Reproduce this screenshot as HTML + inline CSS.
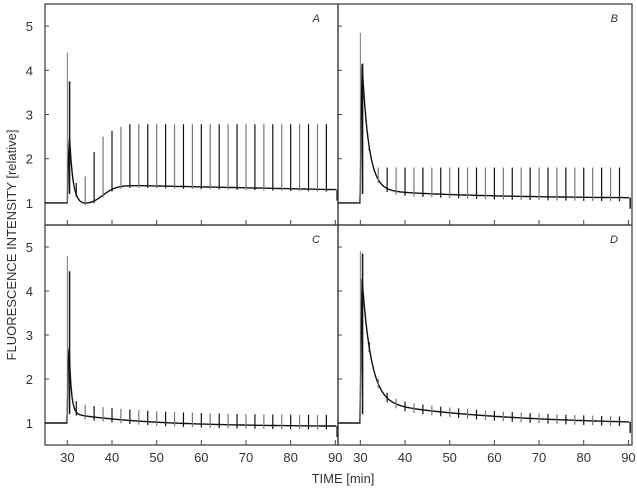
<!DOCTYPE html>
<html><head><meta charset="utf-8"><style>
body{margin:0;background:#fff;}
svg{display:block;font-family:"Liberation Sans",Arial,sans-serif;}
</style></head><body>
<svg id="s" width="637" height="491" xmlns="http://www.w3.org/2000/svg"></svg>
<script>
const s=document.getElementById('s');
let out='';
const panels=[
 {id:'A',x0:45,x1:338,y0:4,y1:225,lx:true,lab:[320,22]},
 {id:'B',x0:338,x1:632,y0:4,y1:225,lx:false,lab:[618,22]},
 {id:'C',x0:45,x1:338,y0:225,y1:445,lx:true,lab:[320,243]},
 {id:'D',x0:338,x1:632,y0:225,y1:445,lx:false,lab:[618,243]}];
function X(p,t){return p.x0+(t-25)*(p.x1-p.x0)/(p.id=='A'||p.id=='C'?65.6:65.8);}
function Y(p,v){return p.y1-(v-0.5)*(p.y1-p.y0)/5;}
function sig(z){return 1/(1+Math.exp(-z));}
const curves={
 A:t=>{ if(t<30)return 1; let d=t-30; let base=0.95+0.45*sig((t-38)/1.5)-(t>42?0.1*(t-42)/48:0)+0.05*Math.exp(-d/0.5); return base+2.8*Math.exp(-d/0.8)*(d>0.5?1:d/0.5);},
 B:t=>{ if(t<30)return 1; let d=t-30; return 1.1+0.2*Math.exp(-(t-30)/25)+3.7*Math.exp(-d/1.5)*(d>0.4?1:d/0.4);},
 C:t=>{ if(t<30)return 1; let d=t-30; return 0.92+0.3*Math.exp(-(t-30)/18)+3.3*Math.exp(-d/0.5)*(d>0.4?1:d/0.4);},
 D:t=>{ if(t<30)return 1; let d=t-30; return 0.95+0.55*Math.exp(-(t-30)/30)+3.4*Math.exp(-d/2)*(d>0.4?1:d/0.4);}
};
const spk={A:[4.4,3.75],B:[4.85,4.15],C:[4.8,4.45],D:[4.9,4.85]};
panels.forEach(p=>{
 out+=`<rect x="${p.x0}" y="${p.y0}" width="${p.x1-p.x0}" height="${p.y1-p.y0}" fill="none" stroke="#444" stroke-width="1.3"/>`;
 for(let v=1;v<=5;v++){let y=Y(p,v);out+=`<line x1="${p.x0}" x2="${p.x0+4}" y1="${y}" y2="${y}" stroke="#444"/>`;
  if(p.lx)out+=`<text x="33" y="${y+5}" font-size="13" text-anchor="end" fill="#333">${v}</text>`;}
 for(let t=30;t<=90;t+=10){let x=X(p,t);out+=`<line x1="${x}" x2="${x}" y1="${p.y1}" y2="${p.y1-5}" stroke="#444"/>`;
  if(p.y1==445)out+=`<text x="${x}" y="462" font-size="13" text-anchor="middle" fill="#333">${t}</text>`;}
 out+=`<text x="${p.lab[0]}" y="${p.lab[1]}" font-size="11" font-style="italic" text-anchor="end" fill="#333">${p.id}</text>`;
 const f=curves[p.id];let d='';
 for(let t=25;t<=90.2;t+=0.1){d+=(d?'L':'M')+X(p,t).toFixed(1)+','+Y(p,f(t)).toFixed(1);}
 out+=`<path d="${d}" fill="none" stroke="#111" stroke-width="1.4"/>`;
 out+=`<line x1="${X(p,30)}" x2="${X(p,30)}" y1="${Y(p,1)}" y2="${Y(p,spk[p.id][0])}" stroke="#777" stroke-width="1"/>`;
 out+=`<line x1="${X(p,30.5)}" x2="${X(p,30.5)}" y1="${Y(p,1.2)}" y2="${Y(p,spk[p.id][1])}" stroke="#111" stroke-width="1.5"/>`;
 for(let i=0,t=32;t<=89;t+=2,i++){
  let b=f(t),top,bot;
  if(p.id=='A'){const h=[1.45,1.6,2.15,2.5,2.63,2.72];top=i<h.length?h[i]:2.78;bot=b-0.05;}
  else if(p.id=='B'){top=i==0?2.3:1.8;bot=b-0.08;}
  else if(p.id=='C'){top=b+0.25;bot=b-0.08;}
  else {top=b+0.12;bot=b-0.1;}
  const x=X(p,t);out+=`<line x1="${x}" x2="${x}" y1="${Y(p,bot)}" y2="${Y(p,top)}" stroke="${i%2?'#777':'#111'}" stroke-width="1.2"/>`;
 }
 out+=`<line x1="${X(p,90.4)}" x2="${X(p,90.4)}" y1="${Y(p,f(90))}" y2="${Y(p,f(90)-0.25)}" stroke="#111" stroke-width="1.4"/>`;
});
out+=`<text x="343" y="483" font-size="13" text-anchor="middle" fill="#333">TIME [min]</text>`;
out+=`<text transform="translate(16,245) rotate(-90)" font-size="13" text-anchor="middle" fill="#333">FLUORESCENCE INTENSITY [relative]</text>`;
s.innerHTML=out;
</script>
</body></html>
